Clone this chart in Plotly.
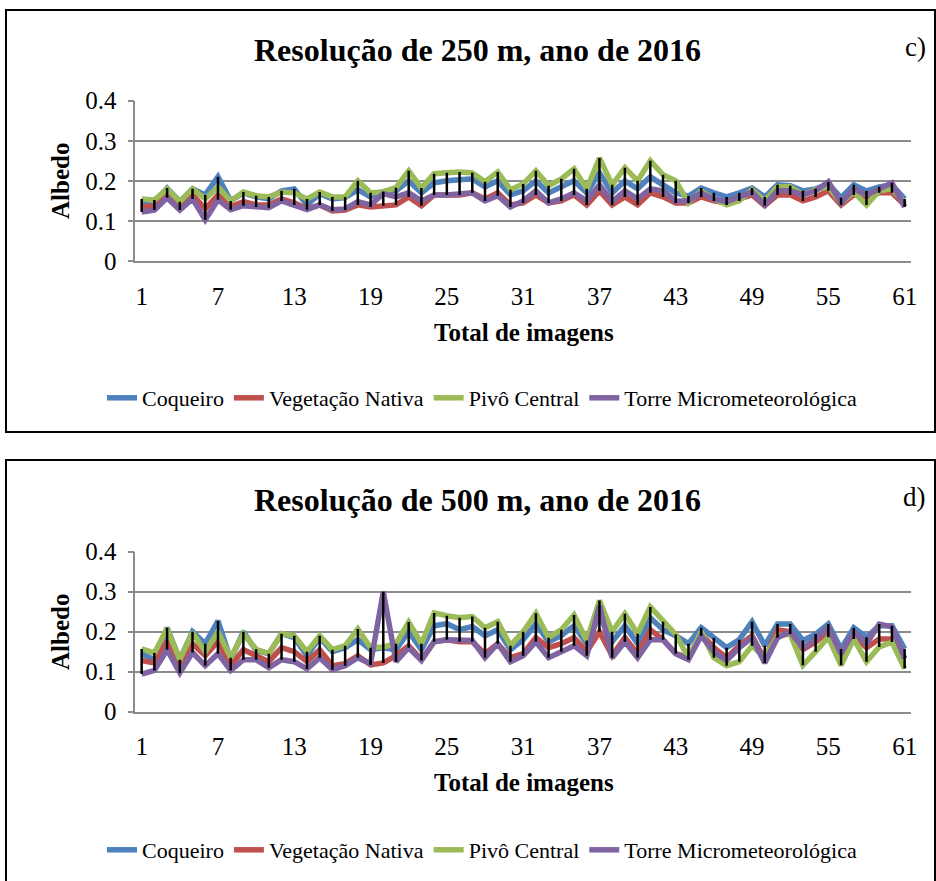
import plotly.graph_objects as go

W, H = 936, 881

imagens = list(range(1, 62))
tick_vals = [1, 7, 13, 19, 25, 31, 37, 43, 49, 55, 61]
tick_text = [str(v) for v in tick_vals]
y_ticks = [0, 0.1, 0.2, 0.3, 0.4]
y_tick_text = ["0", "0.1", "0.2", "0.3", "0.4"]

series_names = ["Coqueiro", "Vegetação Nativa", "Pivô Central", "Torre Micrometeorológica"]
series_colors = ["#4F81BD", "#C0504D", "#9BBB59", "#8064A2"]

# ---- 250 m resolution, 2016 ----
coqueiro_250 = [.145, .145, .182, .148, .180, .165, .210, .150, .170, .160,
                .155, .175, .180, .140, .168, .155, .158, .178, .160, .173,
                .175, .200, .170, .195, .200, .203, .205, .185, .200, .165,
                .175, .200, .170, .185, .200, .170, .220, .170, .200, .180,
                .210, .190, .170, .162, .182, .170, .160, .170, .182, .160,
                .190, .188, .175, .180, .192, .158, .190, .175, .185, .190,
                .155]
vegetacao_250 = [.135, .137, .165, .130, .165, .130, .165, .135, .148, .140,
                 .140, .155, .145, .130, .140, .125, .127, .140, .135, .138,
                 .140, .160, .138, .165, .165, .165, .170, .155, .170, .140,
                 .145, .165, .145, .150, .165, .140, .175, .140, .160, .140,
                 .170, .160, .145, .145, .160, .150, .145, .155, .165, .138,
                 .165, .165, .150, .160, .175, .140, .165, .160, .170, .170,
                 .140]
pivo_250 = [.155, .152, .180, .148, .180, .155, .185, .150, .172, .163,
            .160, .172, .170, .155, .172, .160, .160, .200, .170, .173,
            .183, .225, .182, .218, .220, .222, .220, .198, .222, .178,
            .192, .225, .188, .205, .230, .180, .257, .190, .233, .200,
            .250, .215, .200, .145, .175, .155, .140, .150, .178, .150,
            .185, .185, .165, .178, .185, .145, .172, .140, .175, .180,
            .145]
torre_250 = [.122, .127, .158, .127, .155, .103, .153, .128, .138, .135,
             .133, .150, .140, .128, .140, .128, .130, .148, .140, .168,
             .160, .170, .150, .165, .165, .168, .170, .150, .163, .135,
             .150, .175, .145, .155, .170, .150, .190, .148, .175, .155,
             .180, .175, .150, .150, .170, .155, .148, .160, .172, .140,
             .175, .175, .165, .175, .198, .145, .180, .165, .180, .195,
             .135]

# ---- 500 m resolution, 2016 ----
coqueiro_500 = [.145, .130, .210, .130, .200, .170, .227, .130, .200, .153,
                .145, .195, .185, .140, .185, .150, .160, .180, .155, .160,
                .155, .200, .155, .215, .220, .205, .213, .190, .205, .155,
                .180, .220, .175, .190, .215, .170, .240, .175, .215, .170,
                .235, .205, .190, .170, .210, .185, .160, .180, .225, .165,
                .219, .219, .178, .194, .219, .157, .210, .186, .215, .215,
                .157]
vegetacao_500 = [.128, .122, .175, .120, .170, .140, .175, .115, .155, .140,
                 .125, .160, .150, .125, .155, .115, .120, .140, .117, .122,
                 .140, .165, .130, .175, .180, .175, .175, .145, .170, .135,
                 .145, .185, .160, .170, .185, .150, .200, .140, .185, .145,
                 .205, .180, .145, .135, .195, .160, .135, .165, .190, .130,
                 .205, .200, .155, .174, .200, .142, .190, .160, .182, .182,
                 .133]
pivo_500 = [.157, .147, .208, .130, .198, .150, .200, .135, .195, .156,
            .145, .195, .190, .150, .190, .155, .165, .207, .160, .162,
            .170, .224, .170, .247, .240, .235, .238, .210, .225, .165,
            .200, .246, .185, .205, .242, .178, .278, .200, .245, .195,
            .262, .225, .193, .135, .200, .135, .115, .125, .165, .135,
            .190, .194, .116, .150, .186, .116, .182, .125, .162, .174,
            .108]
torre_500 = [.094, .103, .155, .097, .148, .115, .145, .103, .130, .130,
             .110, .130, .125, .107, .135, .105, .115, .135, .120, .300,
             .125, .160, .128, .175, .180, .180, .178, .135, .170, .125,
             .140, .175, .135, .150, .165, .140, .265, .135, .175, .135,
             .180, .180, .145, .130, .190, .150, .128, .160, .185, .122,
             .185, .200, .160, .182, .210, .145, .200, .170, .219, .212,
             .133]

panels = [
    {"title": "Resolução de 250 m, ano de 2016", "tag": "c)",
     "data": [coqueiro_250, vegetacao_250, pivo_250, torre_250],
     "top": 100.7, "bottom": 261.0, "box": (6, 10, 935, 432),
     "title_y": 50, "ytitle_y": 181, "xtitle_y": 332, "legend_y": 398},
    {"title": "Resolução de 500 m, ano de 2016", "tag": "d)",
     "data": [coqueiro_500, vegetacao_500, pivo_500, torre_500],
     "top": 551.7, "bottom": 711.7, "box": (6, 460, 935, 890),
     "title_y": 500, "ytitle_y": 632, "xtitle_y": 782, "legend_y": 850},
]

PLOT_LEFT, PLOT_RIGHT = 135.3, 911.0
FONT = "Liberation Serif"
GRID = "#8C8C8C"


def fx(px):
    return px / W


def fy(py):
    return 1 - py / H


fig = go.Figure()
shapes = []
annotations = []
layout_axes = {}

for k, p in enumerate(panels):
    sfx = "" if k == 0 else str(k + 1)
    xref, yref = "x" + sfx, "y" + sfx
    legend_id = "legend" if k == 0 else "legend" + str(k + 1)

    for name, color, vals in zip(series_names, series_colors, p["data"]):
        fig.add_trace(go.Scatter(
            x=imagens, y=vals, mode="lines", name=name,
            line=dict(color=color, width=5.5),
            xaxis=xref, yaxis=yref, legend=legend_id,
        ))

    # high-low lines across the four series
    hx, hy = [], []
    for i, vals in enumerate(zip(*p["data"])):
        hx += [imagens[i], imagens[i], None]
        hy += [max(vals), min(vals), None]
    fig.add_trace(go.Scatter(
        x=hx, y=hy, mode="lines", line=dict(color="black", width=2.5),
        xaxis=xref, yaxis=yref, showlegend=False, hoverinfo="skip",
    ))

    layout_axes["xaxis" + sfx] = dict(
        domain=[fx(PLOT_LEFT), fx(PLOT_RIGHT)], range=[0.5, 61.5],
        anchor=yref, tickmode="array", tickvals=tick_vals, ticktext=tick_text,
        showgrid=False, zeroline=False, showline=True, linecolor=GRID,
        linewidth=1.5, ticks="", ticklabelstandoff=12, automargin=False,
        tickfont=dict(family=FONT, size=25, color="black"),
    )
    layout_axes["yaxis" + sfx] = dict(
        domain=[fy(p["bottom"]), fy(p["top"])], range=[0, 0.4],
        anchor=xref, tickmode="array", tickvals=y_ticks, ticktext=y_tick_text,
        showgrid=True, gridcolor=GRID, gridwidth=1.5, zeroline=False,
        showline=True, linecolor=GRID, linewidth=1.5,
        ticks="outside", ticklen=6, tickcolor=GRID, tickwidth=1.5,
        ticklabelstandoff=6, automargin=False,
        tickfont=dict(family=FONT, size=25, color="black"),
    )

    layout_axes[legend_id] = dict(
        orientation="h", x=fx(482), y=fy(p["legend_y"]),
        xanchor="center", yanchor="middle", bgcolor="rgba(0,0,0,0)",
        font=dict(family=FONT, size=22, color="black"),
        tracegroupgap=0,
    )

    x0, y0, x1, y1 = p["box"]
    shapes.append(dict(type="rect", xref="paper", yref="paper",
                       x0=fx(x0), x1=fx(x1), y0=fy(y1), y1=fy(y0),
                       line=dict(color="black", width=2), fillcolor="rgba(0,0,0,0)"))

    annotations += [
        dict(text="<b>" + p["title"] + "</b>", x=fx(478), y=fy(p["title_y"]),
             xref="paper", yref="paper", showarrow=False,
             xanchor="center", yanchor="middle",
             font=dict(family=FONT, size=32, color="black")),
        dict(text=p["tag"], x=fx(928), y=fy(p["title_y"] - 3),
             xref="paper", yref="paper", showarrow=False,
             xanchor="right", yanchor="middle",
             font=dict(family=FONT, size=27, color="black")),
        dict(text="<b>Albedo</b>", x=fx(60), y=fy(p["ytitle_y"]),
             xref="paper", yref="paper", showarrow=False, textangle=-90,
             xanchor="center", yanchor="middle",
             font=dict(family=FONT, size=25, color="black")),
        dict(text="<b>Total de imagens</b>", x=fx(524), y=fy(p["xtitle_y"]),
             xref="paper", yref="paper", showarrow=False,
             xanchor="center", yanchor="middle",
             font=dict(family=FONT, size=25, color="black")),
    ]

fig.update_layout(
    width=W, height=H,
    margin=dict(l=0, r=0, t=0, b=0, pad=0, autoexpand=False),
    paper_bgcolor="white", plot_bgcolor="white",
    shapes=shapes, annotations=annotations, **layout_axes,
)

fig.write_html("out.html")
